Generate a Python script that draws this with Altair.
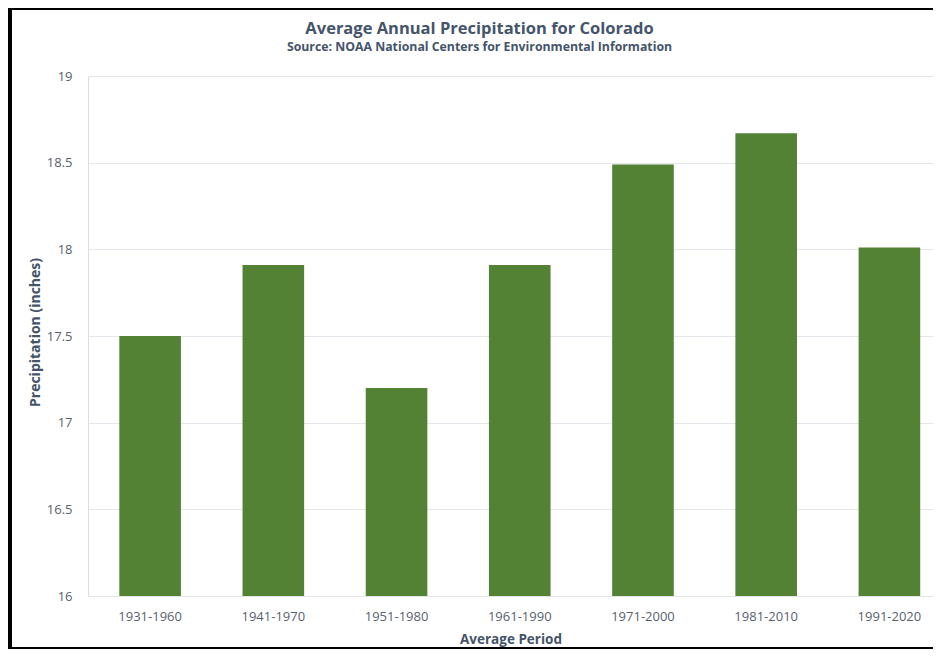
import altair as alt
import pandas as pd

periods = ["1931-1960", "1941-1970", "1951-1980", "1961-1990", "1971-2000", "1981-2010", "1991-2020"]
precip = [17.50, 17.91, 17.20, 17.91, 18.49, 18.67, 18.01]
y_ticks = [16, 16.5, 17, 17.5, 18, 18.5, 19]

df = pd.DataFrame({"period": periods, "precip": precip})

TXT = "#44546A"
LBL = "#595F6E"
FONT = "Open Sans"
W, H = 845, 520
PB = 53

bars = alt.Chart(df).mark_bar(color="#548235").encode(
    x=alt.X("period:N", sort=periods,
            scale=alt.Scale(paddingInner=0.5, paddingOuter=0.179, align=0.71),
            axis=alt.Axis(title="Average Period", labelAngle=0, domain=False, ticks=False,
                          labelPadding=14, labelFontSize=13, labelColor=LBL, labelFont=FONT,
                          titleFont=FONT, titleFontSize=13.5, titleFontWeight="bold", titleColor=TXT,
                          titleY=43, titleBaseline="middle")),
    y=alt.Y("precip:Q", scale=alt.Scale(domain=[16, 19], zero=False, nice=False),
            axis=alt.Axis(title="Precipitation (inches)", values=y_ticks, format="~g",
                          domain=False, ticks=False,
                          grid=True, gridColor="#E3E6EC", gridWidth=1,
                          labelPadding=16, labelFontSize=13, labelColor=LBL, labelFont=FONT,
                          titleFont=FONT, titleFontSize=14, titleFontWeight="bold", titleColor=TXT,
                          titleX=-53, titleY=H / 2 - 4, titleAngle=-90, titleBaseline="middle",
                          titleAlign="center")),
    y2=alt.Y2(datum=16),
)

frame_df = pd.DataFrame({"a": [0]})
left_bar = alt.Chart(frame_df).mark_rect(color="black").encode(
    x=alt.value(-80), x2=alt.value(-76), y=alt.value(-68), y2=alt.value(H + PB))
top_bar = alt.Chart(frame_df).mark_rect(color="black").encode(
    x=alt.value(-80), x2=alt.value(W), y=alt.value(-68), y2=alt.value(-66))
bottom_bar = alt.Chart(frame_df).mark_rect(color="black").encode(
    x=alt.value(-80), x2=alt.value(W), y=alt.value(H + PB - 2), y2=alt.value(H + PB))

chart = alt.layer(bars, left_bar, top_bar, bottom_bar).properties(
    width=W, height=H,
    autosize=alt.AutoSizeParams(type="none"),
    padding={"left": 80, "top": 68, "right": 0, "bottom": PB},
    title=alt.TitleParams(
        text="Average Annual Precipitation for Colorado",
        subtitle="Source: NOAA National Centers for Environmental Information",
        font=FONT, fontSize=16.5, fontWeight="bold", color=TXT,
        subtitleFont=FONT, subtitleFontSize=12.3, subtitleFontWeight="bold", subtitleColor=TXT,
        subtitlePadding=3, anchor="middle", offset=22, dy=67, dx=-31,
    ),
).configure_view(stroke=None).configure(background="white")

chart.save("out.html", embed_options={"renderer": "svg", "actions": False})
